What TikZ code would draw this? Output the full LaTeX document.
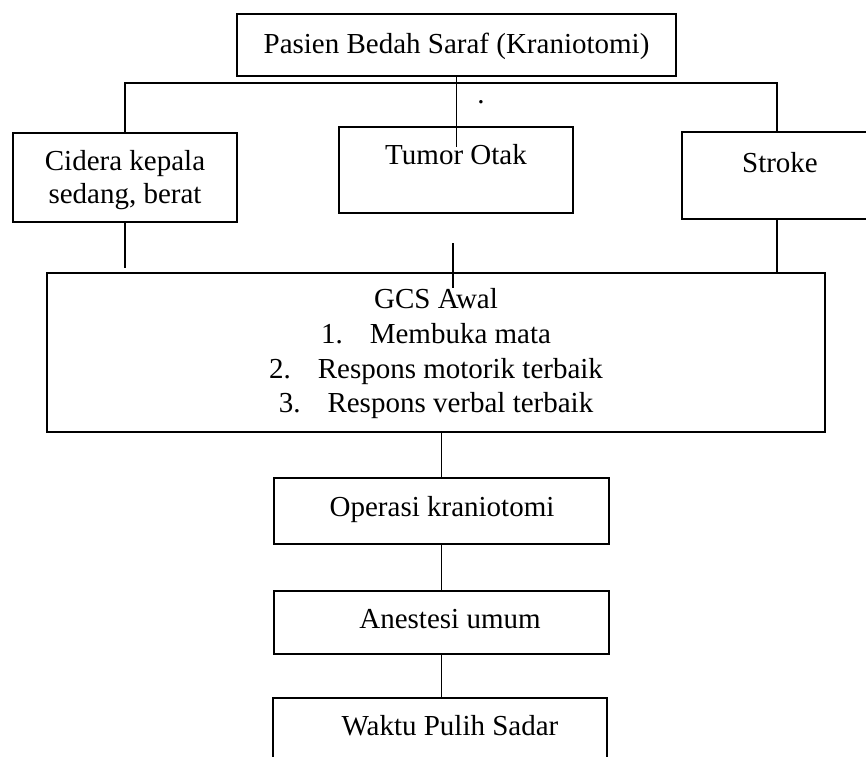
\documentclass[tikz,border=0pt]{standalone}
\usepackage{fontspec}
\setmainfont{Liberation Serif}
\usetikzlibrary{fit}
\begin{document}
\begin{tikzpicture}[x=0.5pt,y=-0.5pt,line width=0.9pt,
  box/.style={draw,rectangle,inner sep=0pt,line width=0.95pt},
  txt/.style={anchor=base,inner sep=0pt,font=\fontsize{14.5pt}{17pt}\selectfont},
  conn/.style={draw,line width=0.9pt}]
\useasboundingbox (0,0) rectangle (866,756);
% boxes
\node[box,fit={(237,14) (676,76)}] (top) {};
\node[box,fit={(13,133) (237,222)}] (cid) {};
\node[box,fit={(339,127) (573,213)}] (tum) {};
\node[box,fit={(682,132) (872,219)}] (str) {};
\node[box,fit={(47,273) (825,432)}] (gcs) {};
\node[box,fit={(274,478) (609,544)}] (op) {};
\node[box,fit={(274,591) (609,654)}] (ane) {};
\node[box,fit={(273,698) (607,775)}] (wps) {};
% texts
\node[txt] (ttop) at (456.5,53) {Pasien Bedah Saraf (Kraniotomi)};
\node[txt] (tcid1) at (125,170) {Cidera kepala};
\node[txt] (tcid2) at (125,203) {sedang, berat};
\node[txt] (ttum) at (456,164) {Tumor Otak};
\node[txt] (tstr) at (780,172) {Stroke};
\node[txt] (tdot) at (481,103) {.};
\node[txt] (tg0) at (436,308) {GCS Awal};
\node[txt] (tg1) at (436,343) {1.\hspace{13.5pt}Membuka mata};
\node[txt] (tg2) at (436,378) {2.\hspace{13.5pt}Respons motorik terbaik};
\node[txt] (tg3) at (436,412) {3.\hspace{13.5pt}Respons verbal terbaik};
\node[txt] (top1) at (442,516) {Operasi kraniotomi};
\node[txt] (tane) at (450,628) {Anestesi umum};
\node[txt] (twps) at (450,735) {Waktu Pulih Sadar};
% free ends
\coordinate (hy) at (0,83);
\coordinate (midend) at (456.5,147);
\coordinate (cidend) at (125,268);
\coordinate (m1) at (453,243);
\coordinate (m2) at (453,288);
% connectors
\draw[conn] (top.south) -- (midend);
\draw[conn] (cid.north) -- (cid.north |- hy) -- (str.north |- hy) -- (str.north);
\draw[conn] (cid.south) -- (cidend);
\draw[conn] (m1) -- (m2);
\draw[conn] (str.south) -- (str.south |- gcs.north);
\draw[conn] (gcs.south -| op.north) -- (op.north);
\draw[conn] (op.south) -- (ane.north);
\draw[conn] (ane.south) -- (ane.south |- wps.north);
\end{tikzpicture}
\end{document}
